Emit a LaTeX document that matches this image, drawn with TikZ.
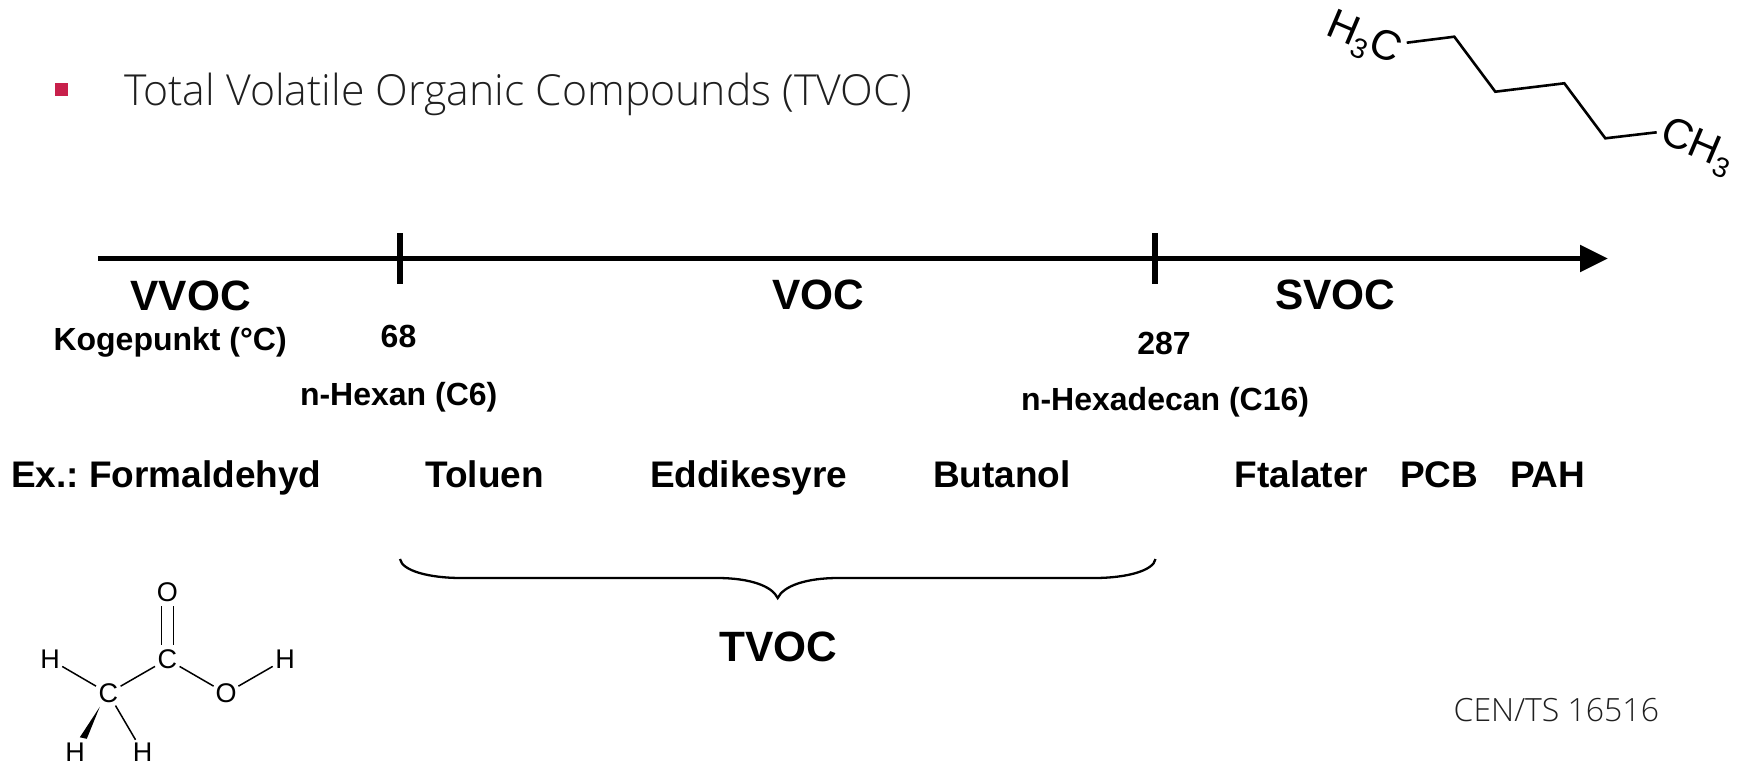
\documentclass[tikz,border=0pt]{standalone}
\usepackage{fontspec}
\setmainfont{Liberation Sans}
\newfontfamily\lightfont{Open Sans Light}
\usetikzlibrary{arrows.meta,calc}
\newcommand{\fsz}[1]{\fontsize{#1}{#1}\selectfont}
\frenchspacing
\tikzset{
  x=1pt,y=-1pt,
  lbl/.style={inner sep=0pt,outer sep=0pt,font=\bfseries\fsz{#1}},
  lbl/.default=36,
  thin light/.style={inner sep=0pt,outer sep=0pt,text=black!88,font=\lightfont\fsz{#1}},
  atom/.style={circle,inner sep=0pt,minimum size=28pt,font=\fsz{27}},
  bond/.style={line width=1.5pt},
  chain/.style={line width=2.6pt,line join=miter},
  axisline/.style={line width=5.3pt},
  formula/.style={inner sep=0pt,outer sep=0pt,font=\fsz{42}}
}
\begin{document}
\begin{tikzpicture}
\useasboundingbox (0,0) rectangle (1742,761);
% title
\node[rectangle,fill={rgb,255:red,200;green,32;blue,75},minimum size=13pt,inner sep=0pt] (bullet) at (61.5,89.5) {};
\node[thin light=42.75,anchor=base west] (title) at (124,105) {Total Volatile Organic Compounds (TVOC)};
% axis
\coordinate (axstart) at (98,258.5);
\coordinate (axend) at (1608,258.5);
\draw[axisline,-{Triangle[length=28pt,width=26pt]}] (axstart) -- (axend);
\coordinate (t1a) at (400,233); \coordinate (t1b) at (400,284);
\coordinate (t2a) at (1155,233); \coordinate (t2b) at (1155,284);
\draw[axisline] (t1a) -- (t1b);
\draw[axisline] (t2a) -- (t2b);
% labels
\node[lbl=42.4,anchor=base] (vvoc) at (190.6,310) {VVOC};
\node[lbl=42.4,anchor=base] (voc) at (818,309) {VOC};
\node[lbl=42.4,anchor=base] (svoc) at (1335.5,309) {SVOC};
\node[lbl=32,anchor=base west] (koge) at (53.5,350) {Kogepunkt (°C)};
\node[lbl=32,anchor=base] (v68) at (398.5,347.5) {68};
\node[lbl=32,anchor=base] (v287) at (1164,354) {287};
\node[lbl=32,anchor=base west] (hexan) at (300,405) {n-Hexan (C6)};
\node[lbl=32,anchor=base west] (hexadecan) at (1021,410) {n-Hexadecan (C16)};
\node[lbl=37,anchor=base west] (ex) at (11,487) {Ex.: Formaldehyd};
\node[lbl=37,anchor=base west] (tol) at (425.5,487) {Toluen};
\node[lbl=37,anchor=base west] (edd) at (650,487) {Eddikesyre};
\node[lbl=37,anchor=base west] (but) at (933,487) {Butanol};
\node[lbl=37,anchor=base west] (fta) at (1234.5,487) {Ftalater};
\node[lbl=37,anchor=base west] (pcb) at (1400,487) {PCB};
\node[lbl=37,anchor=base west] (pah) at (1510,487) {PAH};
% brace
\coordinate (bl) at (400,559);
\coordinate (br) at (1155.5,559);
\coordinate (btip) at (777.7,598);
\draw[line width=2.3pt]
  (bl) .. controls (402,571) and (430,578) .. (461,578) -- (717,578)
  .. controls (750,578) and (772,586) .. (btip)
  .. controls (783.5,586) and (805.5,578) .. (838.5,578) -- (1094.5,578)
  .. controls (1125.5,578) and (1153.5,571) .. (br);
\node[lbl=42.4,anchor=base] (tvoc) at (778,661) {TVOC};
\node[thin light=32,anchor=base east] (cen) at (1659,721) {CEN/TS 16516};
% hexane
\node[formula,rotate=-23,anchor=center] (h3c) at (1363,40) {H\raisebox{-9pt}{\fsz{28}3}C};
\node[formula,rotate=-23,anchor=center] (ch3) at (1697,147) {CH\raisebox{-9pt}{\fsz{28}3}};
\coordinate (c2) at (1454.3,36.7);
\coordinate (c3) at (1495.3,91.7);
\coordinate (c4) at (1564.3,83.3);
\coordinate (c5) at (1605.3,138.3);
\coordinate (ha) at (1406.7,42.7);
\coordinate (hb) at (1656.7,132.3);
\draw[chain] (ha) -- (c2) -- (c3) -- (c4) -- (c5) -- (hb);
% acetic acid
\node[atom] (otop) at (167.3,591.7) {O};
\node[atom] (cc) at (167.3,659.3) {C};
\node[atom] (hl) at (50,659.3) {H};
\node[atom] (ca) at (108.3,693.3) {C};
\node[atom] (oh) at (226,693.3) {O};
\node[atom] (hr) at (285,659.3) {H};
\node[atom] (hbl) at (75,752) {H};
\node[atom] (hbr) at (142.7,752) {H};
\draw[bond] ([xshift=-6pt]otop.south) -- ([xshift=-6pt]cc.north);
\draw[bond] ([xshift=6pt]otop.south) -- ([xshift=6pt]cc.north);
\draw[bond] (cc) -- (ca);
\draw[bond] (cc) -- (oh);
\draw[bond] (oh) -- (hr);
\draw[bond] (hl) -- (ca);
\draw[bond] (ca) -- (hbr);
\fill ([shift={(-8.5,13.5)}]ca.center) -- ([shift={(-28.5,44)}]ca.center) -- ([shift={(-21.5,45.5)}]ca.center) -- cycle;
\end{tikzpicture}
\end{document}
